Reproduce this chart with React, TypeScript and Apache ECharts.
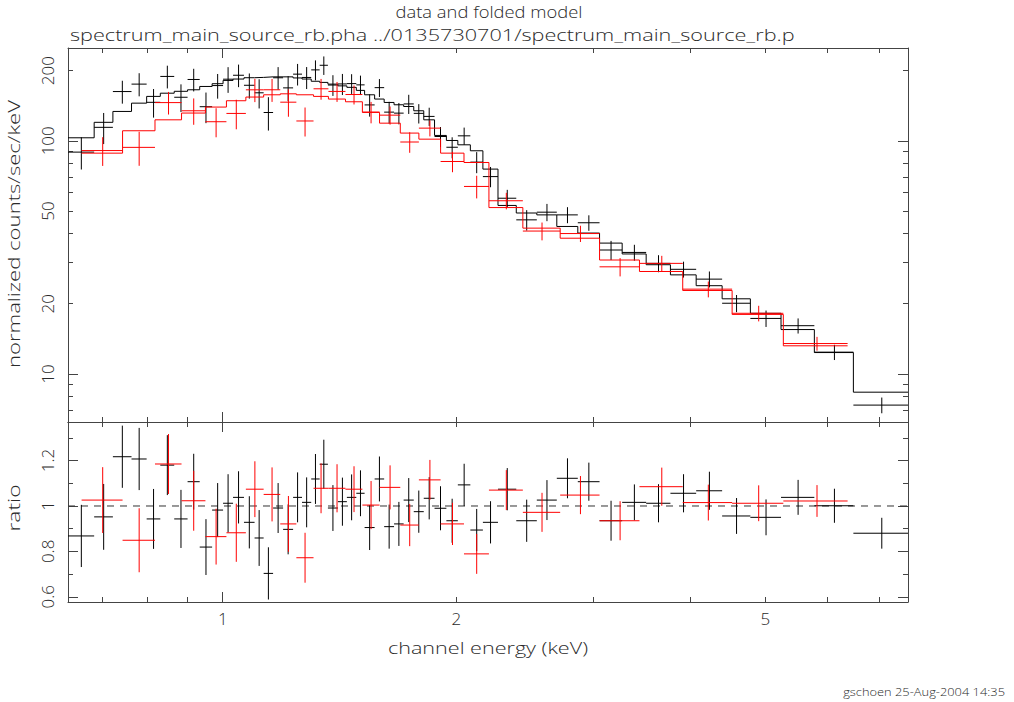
import React, { useEffect, useRef } from "react";
import * as echarts from "echarts";

// ---- data ----
const blackEdges = [0.632, 0.683, 0.722, 0.763, 0.798, 0.831, 0.866, 0.901, 0.934, 0.969, 1.001, 1.031, 1.065, 1.099, 1.129, 1.161, 1.196, 1.232, 1.265, 1.300, 1.333, 1.366, 1.407, 1.445, 1.486, 1.523, 1.569, 1.614, 1.662, 1.710, 1.762, 1.815, 1.874, 1.941, 2.008, 2.084, 2.163, 2.262, 2.388, 2.538, 2.693, 2.866, 3.057, 3.269, 3.510, 3.772, 4.071, 4.397, 4.781, 5.236, 5.780, 6.489, 7.63];
const blackModel = [103, 120, 133.6, 145, 155, 160, 163, 165.5, 171, 175.7, 181.5, 184, 186.4, 187, 188, 188, 188, 186, 184, 180, 178, 175, 172, 169.5, 164.5, 157.5, 151, 146, 142.7, 140.3, 134.5, 123, 105.4, 100.3, 96.1, 90.6, 75.6, 52.8, 49, 48.1, 42.9, 40.2, 36.4, 32.7, 29.4, 26.6, 23.9, 21.0, 18.2, 15.5, 12.35, 8.35];
const blackData = [89.4, 114.2, 162.6, 175.0, 146.2, 188.8, 153.7, 183.2, 140.0, 172.5, 183.7, 191.0, 173.0, 160.6, 132.2, 186.3, 168.6, 193.1, 186.9, 201.4, 210.8, 173.4, 175.3, 175.9, 173.7, 142.5, 169.0, 132.7, 131.4, 143.9, 131.1, 127.2, 104.3, 93.8, 105.0, 81.0, 70.2, 56.7, 45.8, 49.4, 48.1, 44.5, 34.0, 33.2, 29.8, 28.1, 25.5, 20.1, 17.3, 16.1, 12.4, 7.35];
const blackErr = [14.1, 17.4, 18.3, 19.9, 20.5, 21.1, 20.9, 20.4, 21.0, 20.9, 23.2, 21.2, 21.4, 23.0, 21.6, 20.7, 20.7, 20.5, 20.2, 19.8, 19.2, 17.7, 18.2, 17.1, 16.6, 15.6, 14.9, 14.2, 13.8, 13.6, 12.5, 11.4, 10.2, 9.7, 8.9, 8.4, 7.0, 4.9, 4.6, 4.2, 3.8, 3.4, 3.2, 2.6, 2.5, 2.2, 2.0, 1.7, 1.4, 1.2, 0.93, 0.57];
const blackRatio = [0.868, 0.952, 1.217, 1.207, 0.943, 1.18, 0.943, 1.107, 0.819, 0.982, 1.012, 1.038, 0.928, 0.859, 0.703, 0.991, 0.897, 1.038, 1.016, 1.119, 1.184, 0.991, 1.019, 1.038, 1.056, 0.905, 1.119, 0.909, 0.921, 1.026, 0.975, 1.034, 0.990, 0.935, 1.093, 0.894, 0.928, 1.074, 0.935, 1.026, 1.122, 1.107, 0.935, 1.016, 1.012, 1.056, 1.067, 0.956, 0.950, 1.038, 1.001, 0.880];
const blackRatioErr = [0.137, 0.145, 0.137, 0.137, 0.132, 0.132, 0.128, 0.123, 0.123, 0.119, 0.128, 0.115, 0.115, 0.123, 0.115, 0.110, 0.110, 0.110, 0.110, 0.110, 0.108, 0.101, 0.106, 0.101, 0.101, 0.099, 0.099, 0.097, 0.097, 0.097, 0.093, 0.093, 0.097, 0.097, 0.093, 0.093, 0.093, 0.093, 0.093, 0.088, 0.088, 0.084, 0.088, 0.079, 0.084, 0.084, 0.084, 0.079, 0.079, 0.077, 0.075, 0.068];

const redEdges = [0.658, 0.743, 0.818, 0.885, 0.950, 1.011, 1.071, 1.129, 1.186, 1.244, 1.309, 1.368, 1.439, 1.513, 1.592, 1.693, 1.789, 1.908, 2.045, 2.202, 2.435, 2.720, 3.057, 3.441, 3.912, 4.529, 5.272, 6.379];
const redModel = [88.5, 110.4, 123, 131.5, 139.5, 148.5, 154, 157.5, 159, 157.5, 155, 151, 147, 132.3, 119, 107.9, 101.6, 88.5, 80.7, 51.7, 42.2, 38.2, 30.8, 27.5, 22.8, 18.0, 13.2];
const redData = [90.8, 93.7, 145.8, 134.5, 120.7, 131.0, 165.4, 165.5, 146.4, 121.6, 167.1, 162.8, 157.9, 132.8, 128.8, 98.8, 113.3, 81.5, 63.7, 55.3, 41.0, 40.0, 28.8, 29.8, 23.1, 18.2, 13.5];
const redErr = [12.8, 15.6, 16.2, 17.4, 17.2, 19.0, 18.9, 18.7, 19.6, 17.3, 17.1, 16.0, 14.8, 14.0, 11.5, 10.0, 8.9, 8.2, 7.1, 4.5, 3.6, 3.2, 2.6, 2.3, 1.8, 1.4, 0.92];
const redRatio = [1.026, 0.849, 1.185, 1.023, 0.865, 0.882, 1.074, 1.051, 0.921, 0.772, 1.078, 1.078, 1.074, 1.004, 1.082, 0.916, 1.115, 0.921, 0.789, 1.070, 0.972, 1.048, 0.935, 1.085, 1.015, 1.012, 1.022];
const redRatioErr = [0.145, 0.141, 0.132, 0.132, 0.123, 0.128, 0.123, 0.119, 0.123, 0.110, 0.110, 0.106, 0.101, 0.106, 0.097, 0.093, 0.088, 0.093, 0.088, 0.088, 0.086, 0.084, 0.086, 0.084, 0.079, 0.079, 0.070];

// axis ranges & ticks
const xRange = [0.632, 7.63];
const yRange = [6.22, 250];
const rRange = [0.577, 1.37];
const xMinorTicks = [0.7, 0.8, 0.9, 2, 3, 4, 5, 6, 7];
const xMajorTicks = [1];
const xLabels = [1, 2, 5];
const yMinorTicks = [7, 8, 9, 20, 30, 40, 50, 60, 70, 80, 90, 200];
const yMajorTicks = [10, 100];
const yLabels = [10, 20, 50, 100, 200];
const rMinorTicks = [0.7, 0.9, 1.1, 1.3];
const rMajorTicks = [0.6, 0.8, 1, 1.2];
const rLabels = [0.6, 0.8, 1, 1.2];
const refRatio = 1;

const titleText = "data and folded model";
const subtitleText = "spectrum_main_source_rb.pha ../0135730701/spectrum_main_source_rb.p";
const yName = "normalized counts/sec/keV";
const rName = "ratio";
const xName = "channel energy (keV)";
const footerText = "gschoen 25-Aug-2004 14:35";

// ---- styling ----
const FONT = '"Open Sans", "DejaVu Sans", sans-serif';
const WEIGHT = 300;
const TXT = "#2a2a2a";
const AX = "#444";

function measure(text: string, size: number) {
  const ctx = document.createElement("canvas").getContext("2d");
  if (!ctx) return text.length * size * 0.55;
  ctx.font = `${WEIGHT} ${size}px ${FONT}`;
  return ctx.measureText(text).width || text.length * size * 0.55;
}

function crossItems(edges: number[], vals: number[], errs: number[]) {
  return vals.map((v, i) => [edges[i], edges[i + 1], v, errs[i]]);
}
function stepItems(edges: number[], vals: number[]) {
  const out: number[][] = [];
  vals.forEach((v, i) => {
    out.push([edges[i], v]);
    out.push([edges[i + 1], v]);
  });
  return out;
}

const crossRender = (color: string) => (params: any, api: any) => {
  const lo = api.value(0), hi = api.value(1), v = api.value(2), e = api.value(3);
  const mid = (lo + hi) / 2;
  const pL = api.coord([lo, v]);
  const pR = api.coord([hi, v]);
  const pT = api.coord([mid, v + e]);
  const pB = api.coord([mid, v - e]);
  const st = { stroke: color, lineWidth: 1 };
  return {
    type: "group",
    children: [
      { type: "line", shape: { x1: pL[0], y1: pL[1], x2: pR[0], y2: pR[1] }, style: st },
      { type: "line", shape: { x1: pT[0], y1: pT[1], x2: pB[0], y2: pB[1] }, style: st },
    ],
  };
};

function axis(
  kind: "x" | "y",
  grid: number,
  position: string,
  type: string,
  range: number[],
  ticks: number[],
  len: number,
  showLine: boolean,
  labels?: number[],
  rotate?: number,
  margin?: number
) {
  const a: any = {
    type,
    gridIndex: grid,
    position,
    min: range[0],
    max: range[1],
    axisLine: { show: showLine, onZero: false, lineStyle: { color: AX, width: 1 } },
    axisTick: { show: true, inside: true, length: len, customValues: ticks, lineStyle: { color: AX, width: 1 } },
    splitLine: { show: false },
    minorTick: { show: false },
    axisLabel: labels
      ? {
          show: true,
          customValues: labels,
          rotate: rotate || 0,
          margin: margin ?? 8,
          fontSize: 17,
          fontFamily: FONT,
          fontWeight: WEIGHT,
          color: TXT,
          formatter: (v: number) => String(+Number(v).toPrecision(6)),
        }
      : { show: false },
  };
  if (type === "log") a.logBase = 10;
  return a;
}

function textEl(text: string, x: number, y: number, size: number, width: number, align: string, rotation = 0) {
  const s = width / measure(text, size);
  return {
    type: "text",
    x,
    y,
    rotation,
    scaleX: s,
    silent: true,
    style: {
      text,
      x: 0,
      y: 0,
      fontSize: size,
      fontFamily: FONT,
      fontWeight: WEIGHT,
      fill: TXT,
      align,
      verticalAlign: "middle",
      textAlign: align,
      textVerticalAlign: "middle",
    },
  };
}

export default function App() {
  const ref = useRef<HTMLDivElement>(null);
  useEffect(() => {
    if (!ref.current) return;
    const chart = echarts.init(ref.current, null, { renderer: "svg" });
    const option: any = {
      animation: false,
      backgroundColor: "#fff",
      textStyle: { fontFamily: FONT },
      grid: [
        { left: 68, top: 48, width: 840, height: 374 },
        { left: 68, top: 422, width: 840, height: 180 },
      ],
      xAxis: [
        axis("x", 0, "bottom", "log", xRange, xMinorTicks, 5, true),
        axis("x", 0, "top", "log", xRange, xMinorTicks, 5, true),
        axis("x", 0, "bottom", "log", xRange, xMajorTicks, 10, false),
        axis("x", 0, "top", "log", xRange, xMajorTicks, 10, false),
        axis("x", 1, "bottom", "log", xRange, xMinorTicks, 5, true, xLabels, 0, 8),
        axis("x", 1, "top", "log", xRange, xMinorTicks, 5, true),
        axis("x", 1, "bottom", "log", xRange, xMajorTicks, 10, false),
        axis("x", 1, "top", "log", xRange, xMajorTicks, 10, false),
      ],
      yAxis: [
        axis("y", 0, "left", "log", yRange, yMinorTicks, 5, true, yLabels, 90, 12),
        axis("y", 0, "right", "log", yRange, yMinorTicks, 5, true),
        axis("y", 0, "left", "log", yRange, yMajorTicks, 10, false),
        axis("y", 0, "right", "log", yRange, yMajorTicks, 10, false),
        axis("y", 1, "left", "value", rRange, rMinorTicks, 5, true, rLabels, 90, 12),
        axis("y", 1, "right", "value", rRange, rMinorTicks, 5, true),
        axis("y", 1, "left", "value", rRange, rMajorTicks, 10, false),
        axis("y", 1, "right", "value", rRange, rMajorTicks, 10, false),
      ],
      series: [
        {
          type: "custom",
          name: "black data",
          xAxisIndex: 0,
          yAxisIndex: 0,
          renderItem: crossRender("#000"),
          encode: { x: [0, 1], y: 2 },
          data: crossItems(blackEdges, blackData, blackErr),
          z: 3,
        },
        {
          type: "line",
          name: "black model",
          xAxisIndex: 0,
          yAxisIndex: 0,
          showSymbol: false,
          symbol: "none",
          lineStyle: { color: "#000", width: 1 },
          data: stepItems(blackEdges, blackModel),
          z: 3,
        },
        {
          type: "custom",
          name: "red data",
          xAxisIndex: 0,
          yAxisIndex: 0,
          renderItem: crossRender("#ff0000"),
          encode: { x: [0, 1], y: 2 },
          data: crossItems(redEdges, redData, redErr),
          z: 4,
        },
        {
          type: "line",
          name: "red model",
          xAxisIndex: 0,
          yAxisIndex: 0,
          showSymbol: false,
          symbol: "none",
          lineStyle: { color: "#ff0000", width: 1 },
          data: stepItems(redEdges, redModel),
          z: 4,
        },
        {
          type: "line",
          name: "unity",
          xAxisIndex: 4,
          yAxisIndex: 4,
          showSymbol: false,
          symbol: "none",
          lineStyle: { color: "#333", width: 1, type: [7, 6] },
          data: [
            [xRange[0], refRatio],
            [xRange[1], refRatio],
          ],
          z: 2,
        },
        {
          type: "custom",
          name: "black ratio",
          xAxisIndex: 4,
          yAxisIndex: 4,
          renderItem: crossRender("#000"),
          encode: { x: [0, 1], y: 2 },
          data: crossItems(blackEdges, blackRatio, blackRatioErr),
          z: 3,
        },
        {
          type: "custom",
          name: "red ratio",
          xAxisIndex: 4,
          yAxisIndex: 4,
          renderItem: crossRender("#ff0000"),
          encode: { x: [0, 1], y: 2 },
          data: crossItems(redEdges, redRatio, redRatioErr),
          z: 4,
        },
      ],
      graphic: [
        textEl(titleText, 489, 12, 16, 187, "center"),
        textEl(subtitleText, 70, 34, 17, 725, "left"),
        textEl(yName, 14, 234, 17, 268, "center", Math.PI / 2),
        textEl(rName, 14, 508, 17, 47, "center", Math.PI / 2),
        textEl(xName, 488, 647, 17, 200, "center"),
        textEl(footerText, 1005, 692, 11, 162, "right"),
      ],
    };
    chart.setOption(option);
    return () => chart.dispose();
  }, []);
  return (
    <div
      ref={ref}
      style={{ position: "fixed", left: 0, top: 0, width: 1014, height: 702, background: "#fff" }}
    />
  );
}
